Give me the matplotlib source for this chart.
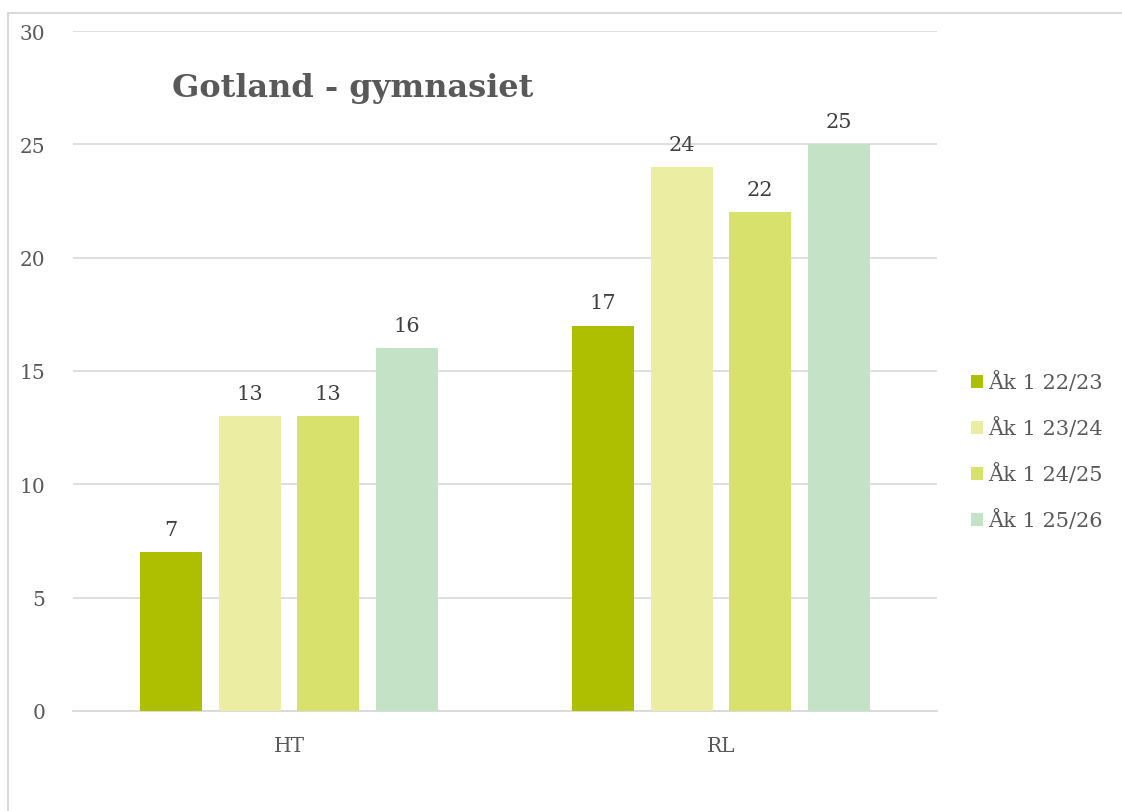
import matplotlib
matplotlib.use("Agg")
import matplotlib.pyplot as plt
import numpy as np
from matplotlib.patches import Rectangle

categories = ["HT", "RL"]
series_names = ["Åk 1 22/23", "Åk 1 23/24", "Åk 1 24/25", "Åk 1 25/26"]
series_values = [
    [7, 17],
    [13, 24],
    [13, 22],
    [16, 25],
]
colors = ["#ADBF00", "#EAEDA2", "#D8E16B", "#C4E3C6"]
title = "Gotland - gymnasiet"
yticks = [0, 5, 10, 15, 20, 25, 30]

W, H = 1122, 812
fig = plt.figure(figsize=(W / 100, H / 100), dpi=100)
plt.rcParams['font.family'] = ['DejaVu Serif']
text_color = "#595959"

# outer frame (top and left visible)
fig.patches.append(Rectangle((8 / W, -0.1), 1.2, 1 - 13.5 / H + 0.1,
                             transform=fig.transFigure, fill=False,
                             edgecolor="#D9D9D9", linewidth=1.5, zorder=0))

ax = fig.add_axes([73 / W, (H - 712) / H, (937 - 73) / W, (712 - 32) / H])

x = np.arange(len(categories))
bar_w = 62 / 432
pitch = 78.5 / 432
n = len(series_values)
for i, (vals, c, name) in enumerate(zip(series_values, colors, series_names)):
    pos = x + (i - (n - 1) / 2) * pitch
    bars = ax.bar(pos, vals, width=bar_w, color=c, label=name, zorder=3)
    for b, v in zip(bars, vals):
        ax.annotate(f"{v}", (b.get_x() + b.get_width() / 2, v),
                    xytext=(0, 9.5), textcoords="offset points",
                    ha="center", va="bottom", fontsize=15, color="#404040")

ax.set_xlim(-0.5, 1.5)
ax.set_ylim(0, 30)
ax.set_yticks(yticks)
ax.set_xticks(x)
ax.set_xticklabels(categories)
ax.yaxis.grid(True, color="#D9D9D9", linewidth=1.2, zorder=0)
ax.set_axisbelow(True)
for s in ["top", "right", "left"]:
    ax.spines[s].set_visible(False)
ax.spines["bottom"].set_color("#D9D9D9")
ax.spines["bottom"].set_linewidth(1.3)
ax.tick_params(axis="both", length=0, labelsize=14.5, colors=text_color)
ax.tick_params(axis="y", pad=20)
ax.tick_params(axis="x", pad=18)

fig.text(172 / W, (H - 89) / H, title, fontsize=23, fontweight="bold",
         color=text_color, ha="left", va="center")

leg = ax.legend(loc="center left", bbox_to_anchor=(952 / W, (H - 452) / H),
                bbox_transform=fig.transFigure, frameon=False,
                fontsize=15, labelcolor=text_color, handlelength=0.6,
                handleheight=0.6, handletextpad=0.25, labelspacing=1.2)

fig.savefig("out.png", dpi=100)
